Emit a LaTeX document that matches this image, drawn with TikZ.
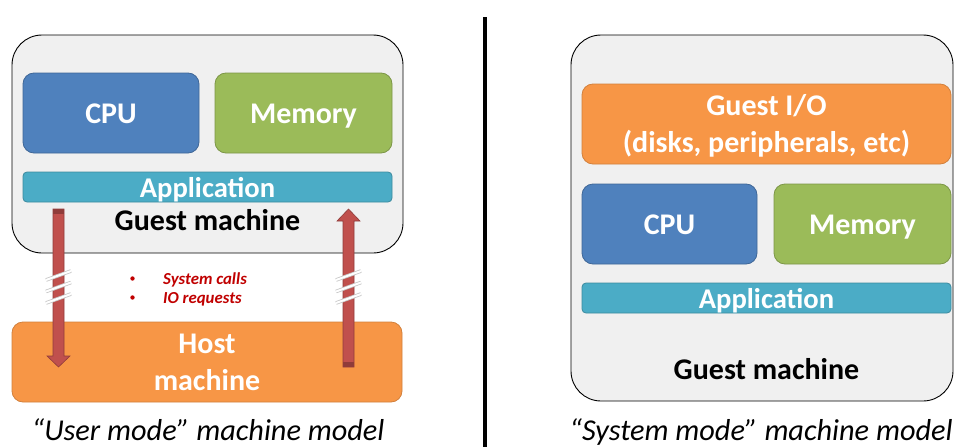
\documentclass[tikz,border=0pt]{standalone}
\usepackage{fontspec}
\setmainfont{Carlito}
\begin{document}
\begin{tikzpicture}[x=1pt,y=-1pt,
  guest/.style={draw=black,line width=0.9pt,fill=guestgray,rounded corners=30pt},
  blk/.style={rounded corners=11pt,line width=0.8pt},
  cpubox/.style={blk,fill=cpublue,draw=cpublue!80!black},
  membox/.style={blk,fill=memgreen,draw=memgreen!80!black},
  appbox/.style={rounded corners=4pt,line width=0.8pt,fill=appcyan,draw=appcyan!80!black},
  orgbox/.style={blk,fill=hostorange,draw=hostorange!85!black},
  wlab/.style={anchor=base,text=white,font=\bfseries\fontsize{30}{36}\selectfont,inner sep=0pt},
  alab/.style={anchor=base,text=white,font=\bfseries\fontsize{28.6}{34}\selectfont,inner sep=0pt},
  klab/.style={anchor=base,text=black,font=\bfseries\fontsize{30}{36}\selectfont,inner sep=0pt},
  caplab/.style={anchor=base,font=\itshape\fontsize{30.3}{36}\selectfont,inner sep=0pt},
  redlab/.style={anchor=base west,text=darkred,font=\bfseries\itshape\fontsize{16.8}{19}\selectfont,inner sep=0pt},
  bigarrow/.style={fill=arrowred,draw=arrowred!75!black,line width=0.6pt},
  capdark/.style={fill=arrowred!75!black},
  breakout/.style={draw=gray!45,line width=3.6pt},
  breakin/.style={draw=white,line width=2pt}]
\definecolor{guestgray}{HTML}{F0F0F0}
\definecolor{cpublue}{HTML}{4F81BD}
\definecolor{memgreen}{HTML}{9BBB59}
\definecolor{appcyan}{HTML}{4BACC6}
\definecolor{hostorange}{HTML}{F79646}
\definecolor{arrowred}{HTML}{C0504D}
\definecolor{darkred}{HTML}{C00000}
\useasboundingbox (0,0) rectangle (954,447);

% ---------- left panel ----------
\draw[guest] (12,35) rectangle (403,253);
\draw[cpubox] (23,73) rectangle (199,153);
\node[wlab] (lcpu) at (111,123) {CPU};
\draw[membox] (215,73) rectangle (392,153);
\node[wlab] (lmem) at (303.5,123) {Memory};
\draw[appbox] (23,172) rectangle (392,202);
\node[alab] (lapp) at (207.5,197) {Application};
\node[klab] (lgm) at (207.5,230) {Guest machine};

\draw[orgbox] (12,322) rectangle (402,402);
\node[wlab] (host1) at (207,353) {Host};
\node[wlab] (host2) at (207,390) {machine};

% down arrow
\draw[bigarrow] (53,209) -- (64,209) -- (64,356) -- (70,356) -- (58.5,367) -- (47,356) -- (53,356) -- cycle;
\fill[capdark] (53.3,209.3) rectangle (63.7,214);
% up arrow
\draw[bigarrow] (343,367) -- (354,367) -- (354,221) -- (360,221) -- (348.5,209) -- (337,221) -- (343,221) -- cycle;
\fill[capdark] (343.3,362) rectangle (353.7,366.7);

% break marks
\foreach \xc in {58.5,348.5}{
  \foreach \yc in {275.5,287,298.5}{
    \draw[breakout] (\xc-12.5,\yc+4.5) -- (\xc+12.5,\yc-4.5);
    \draw[breakin] (\xc-12.5,\yc+4.5) -- (\xc+12.5,\yc-4.5);
  }
}

\node[redlab] (sys) at (163,284) {System calls};
\node[redlab] (io) at (163,303) {IO requests};
\fill[darkred] (132.5,278.5) circle (2.2pt);
\fill[darkred] (132.5,297.5) circle (2.2pt);

\node[caplab] (lcap) at (208,440) {“User mode” machine model};

% divider
\draw[line width=3.5pt] (485,17) -- (485,447);

% ---------- right panel ----------
\draw[guest] (571,35) rectangle (953,401);
\draw[orgbox] (582,84) rectangle (951,164);
\node[wlab] (gio1) at (766.5,115) {Guest I/O};
\node[wlab] (gio2) at (766.5,152) {(disks, peripherals, etc)};
\draw[cpubox] (582,184) rectangle (757,264);
\node[wlab] (rcpu) at (669.5,234) {CPU};
\draw[membox] (774,184) rectangle (951,264);
\node[wlab] (rmem) at (862.5,234) {Memory};
\draw[appbox] (582,283) rectangle (951,313);
\node[alab] (rapp) at (766.5,308) {Application};
\node[klab] (rgm) at (766.5,379) {Guest machine};

\node[caplab] (rcap) at (761,440) {“System mode” machine model};
\end{tikzpicture}
\end{document}
